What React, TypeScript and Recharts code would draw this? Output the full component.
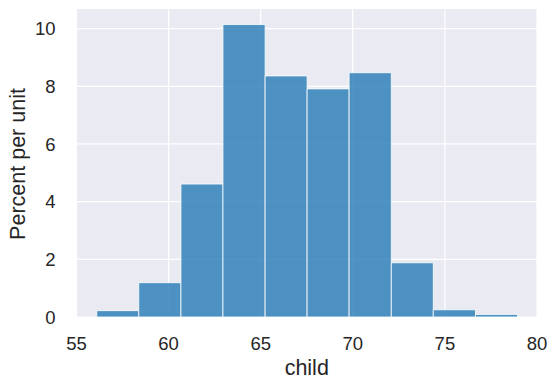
import React from 'react';
import { ComposedChart, XAxis, YAxis, CartesianGrid, ReferenceArea } from 'recharts';

// Histogram of child heights (10 bins)
const binEdges = [56.1, 58.38, 60.67, 62.95, 65.24, 67.52, 69.8, 72.09, 74.37, 76.66, 78.94];
const percentPerUnit = [0.22, 1.19, 4.61, 10.14, 8.36, 7.91, 8.47, 1.88, 0.25, 0.09];
const xTicks = [55, 60, 65, 70, 75, 80];
const yTicks = [0, 2, 4, 6, 8, 10];
const xLabel = 'child';
const yLabel = 'Percent per unit';

const bins = percentPerUnit.map((v, i) => ({
  x0: binEdges[i],
  x1: binEdges[i + 1],
  mid: (binEdges[i] + binEdges[i + 1]) / 2,
  value: v,
}));

const FONT = '"Liberation Sans", Arial, sans-serif';
const TEXT = '#262626';

export default function App() {
  return (
    <div style={{ position: 'absolute', left: 0, top: 0, width: 557, height: 388, background: '#fff' }}>
      <ComposedChart
        width={557}
        height={388}
        data={bins}
        margin={{ top: 9, right: 20, bottom: 0, left: 0 }}
      >
        <CartesianGrid
          fill="#EAEAF2"
          stroke="#FFFFFF"
          strokeWidth={1.25}
          horizontalValues={yTicks}
          verticalValues={xTicks}
        />
        <XAxis
          type="number"
          dataKey="mid"
          domain={[55, 80]}
          ticks={xTicks}
          interval={0}
          allowDataOverflow
          axisLine={false}
          tickLine={false}
          tickSize={0}
          tickMargin={20}
          height={71}
          tick={{ fill: TEXT, fontSize: 18.5, fontFamily: FONT }}
          label={{
            content: (p: any) => {
              const vb = p.viewBox || {};
              return (
                <text
                  x={vb.x + vb.width / 2}
                  y={vb.y + 58}
                  textAnchor="middle"
                  fill={TEXT}
                  fontSize={21.5}
                  fontFamily={FONT}
                >
                  {xLabel}
                </text>
              );
            },
          }}
        />
        <YAxis
          type="number"
          domain={[0, 10.68]}
          ticks={yTicks}
          interval={0}
          allowDataOverflow
          axisLine={false}
          tickLine={false}
          tickSize={0}
          tickMargin={21}
          width={76.5}
          tick={{ fill: TEXT, fontSize: 18.5, fontFamily: FONT }}
          label={{
            content: (p: any) => {
              const vb = p.viewBox || {};
              const cx = 24.5;
              const cy = vb.y + vb.height / 2 + 1;
              return (
                <text
                  x={cx}
                  y={cy}
                  transform={`rotate(-90, ${cx}, ${cy})`}
                  textAnchor="middle"
                  fill={TEXT}
                  fontSize={21.5}
                  fontFamily={FONT}
                >
                  {yLabel}
                </text>
              );
            },
          }}
        />
        {bins.map((b, i) => (
          <ReferenceArea
            key={i}
            x1={b.x0}
            x2={b.x1}
            y1={0}
            y2={b.value}
            fill="#1f77b4"
            fillOpacity={0.78}
            stroke="#FFFFFF"
            strokeOpacity={0.8}
            strokeWidth={1}
            ifOverflow="visible"
          />
        ))}
      </ComposedChart>
    </div>
  );
}
